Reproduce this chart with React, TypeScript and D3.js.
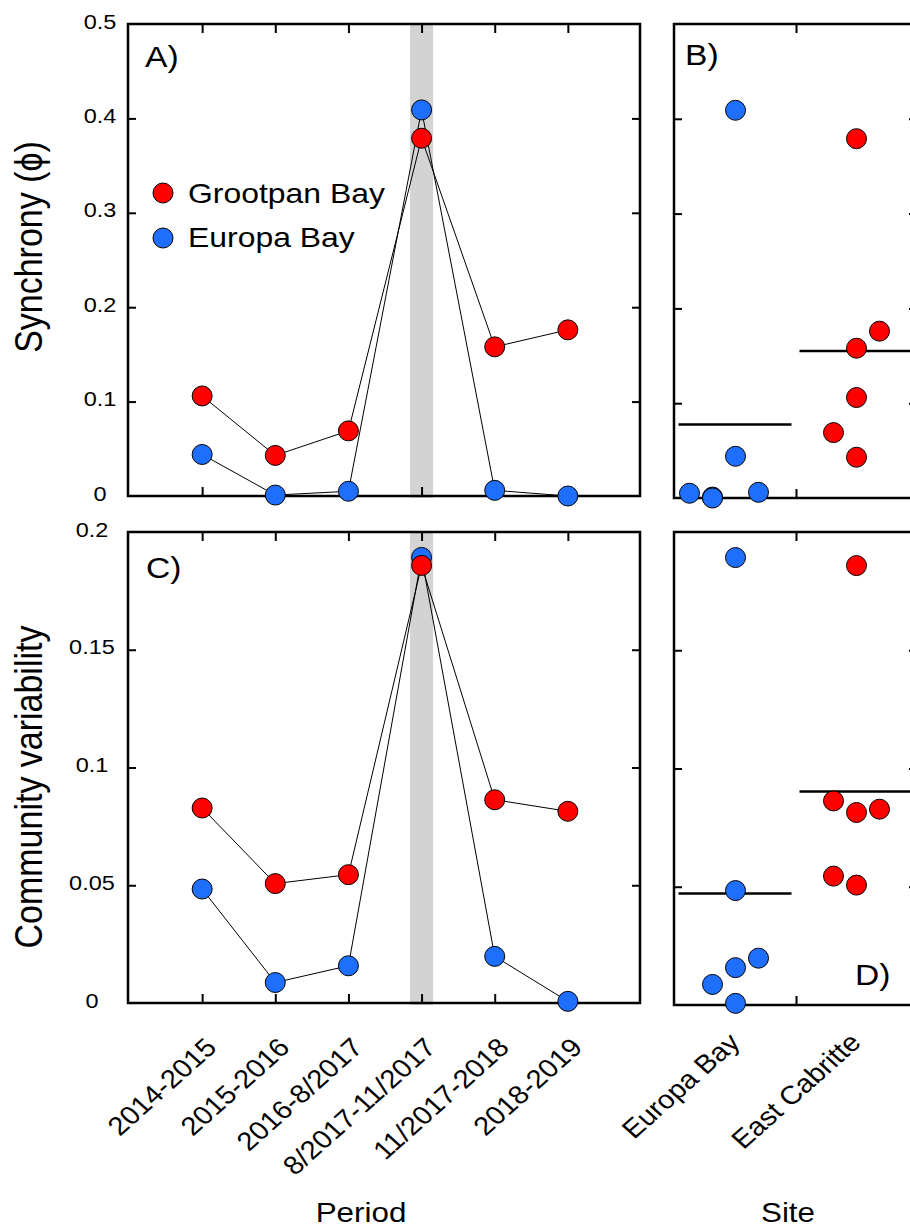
import React, { useEffect, useRef } from "react";
import * as d3 from "d3";

// categories
const periods = ["2014-2015", "2015-2016", "2016-8/2017", "8/2017-11/2017", "11/2017-2018", "2018-2019"];
const sites = ["Europa Bay", "East Cabritte"];
const highlightPeriod = "8/2017-11/2017";

// synchrony (phi) per period
const synchronyGrootpan = [0.106, 0.043, 0.069, 0.379, 0.158, 0.176];
const synchronyEuropa = [0.044, 0.001, 0.005, 0.409, 0.006, 0.0];

// community variability per period
const variabilityGrootpan = [0.0828, 0.0507, 0.0545, 0.1858, 0.0863, 0.0814];
const variabilityEuropa = [0.0484, 0.0087, 0.0158, 0.1892, 0.0198, 0.0007];

// dodge slots for the site panels (B, D)
const slotsSyncEuropa = [0, -1, -2, 0, 1, -1];
const slotsSyncGrootpan = [0, 0, -1, 0, 0, 1];
const slotsVarEuropa = [0, -1, 0, 0, 1, 0];
const slotsVarGrootpan = [1, 0, -1, 0, -1, 0];

// tick labels
const syncTicks = [0, 0.1, 0.2, 0.3, 0.4, 0.5];
const varTicks = [0, 0.05, 0.1, 0.15, 0.2];

const FONT = "'Liberation Sans', Arial, Helvetica, sans-serif";
const RED = "#ff0000";
const BLUE = "#1f6fff";
const BAND = "#d3d3d3";
const SX = 1.12; // text in the figure is slightly wide

const addText = (g: any, x: number, y: number, str: string, size: number, anchor = "start", rot = 0) =>
  g.append("text")
    .attr("transform", `translate(${x},${y}) scale(${SX},1) rotate(${rot})`)
    .attr("text-anchor", anchor)
    .style("font-family", FONT)
    .style("font-size", size + "px")
    .attr("fill", "#000")
    .text(str);

const fmt = (v: number) => (v === 0 ? "0" : String(v));

// frame + inward ticks on all four sides
const drawFrame = (svg: any, x: any, y: any, xTickPos: number[], yTickVals: number[]) => {
  const [x0, x1] = x.range();
  const [y1, y0] = y.range();
  const g = svg.append("g");
  const xt = d3.scaleIdentity().domain([x0, x1]);
  g.append("g").attr("transform", `translate(0,${y0})`)
    .call(d3.axisTop(xt).tickValues(xTickPos).tickSize(-9).tickFormat(() => ""));
  g.append("g").attr("transform", `translate(0,${y1})`)
    .call(d3.axisBottom(xt).tickValues(xTickPos).tickSize(-9).tickFormat(() => ""));
  g.append("g").attr("transform", `translate(${x0},0)`)
    .call(d3.axisLeft(y).tickValues(yTickVals).tickSize(-8).tickFormat(() => ""));
  g.append("g").attr("transform", `translate(${x1},0)`)
    .call(d3.axisRight(y).tickValues(yTickVals).tickSize(-8).tickFormat(() => ""));
  g.selectAll(".domain").remove();
  g.selectAll(".tick line").attr("stroke", "#000").attr("stroke-width", 2);
  g.append("rect")
    .attr("x", x0).attr("y", y0)
    .attr("width", x1 - x0).attr("height", y1 - y0)
    .attr("fill", "none").attr("stroke", "#000").attr("stroke-width", 2.5);
};

const dots = (g: any, data: any[], color: string) =>
  g.append("g").selectAll("circle").data(data).enter().append("circle")
    .attr("cx", (d: any) => d.x).attr("cy", (d: any) => d.y)
    .attr("r", 10).attr("fill", color)
    .attr("stroke", "#000").attr("stroke-width", 1);

const periodPanel = (svg: any, y: any, grootpan: number[], europa: number[], ticks: number[], labelX: number) => {
  const x = d3.scalePoint().domain(periods).range([129, 641]).padding(1);
  const [yb, yt] = y.range();

  // highlighted period band
  svg.append("rect")
    .attr("x", (x(highlightPeriod) as number) - 11.5).attr("y", yt)
    .attr("width", 23).attr("height", yb - yt + 2)
    .attr("fill", BAND);

  drawFrame(svg, d3.scaleLinear().range([128, 640]), y, periods.map((p) => x(p) as number), ticks.slice(1, -1));

  ticks.forEach((t) => addText(svg, labelX, y(t) + 4.5, fmt(t), 21, "middle"));

  const line = d3.line<number>().x((d, i) => x(periods[i]) as number).y((d) => y(d));
  [europa, grootpan].forEach((s) => {
    svg.append("path").datum(s).attr("d", line)
      .attr("fill", "none").attr("stroke", "#000").attr("stroke-width", 1);
  });
  dots(svg, europa.map((v, i) => ({ x: x(periods[i]), y: y(v) })), BLUE);
  dots(svg, grootpan.map((v, i) => ({ x: x(periods[i]), y: y(v) })), RED);
};

const sitePanel = (svg: any, y: any, grootpan: number[], europa: number[], slotsG: number[], slotsE: number[], ticks: number[]) => {
  const x = d3.scalePoint().domain(sites).range([675, 917]).padding(0.5);
  const mid = ((x(sites[0]) as number) + (x(sites[1]) as number)) / 2;
  drawFrame(svg, d3.scaleLinear().range([674, 917]), y, [mid], ticks.slice(1, -1));

  const step = 23;
  [[europa, sites[0]], [grootpan, sites[1]]].forEach(([vals, site]: any) => {
    const cx = x(site) as number;
    const m = d3.mean(vals as number[]) as number;
    svg.append("line")
      .attr("x1", cx - 57).attr("x2", cx + 56)
      .attr("y1", y(m)).attr("y2", y(m))
      .attr("stroke", "#000").attr("stroke-width", 2.5);
  });
  dots(svg, europa.map((v, i) => ({ x: (x(sites[0]) as number) + slotsE[i] * step, y: y(v) })), BLUE);
  dots(svg, grootpan.map((v, i) => ({ x: (x(sites[1]) as number) + slotsG[i] * step, y: y(v) })), RED);
};

const createFigure = (node: SVGSVGElement) => {
  const svg = d3.select(node);
  svg.selectAll("*").remove();

  const yA = d3.scaleLinear().domain([0, 0.5]).range([496, 24]);
  const yB = d3.scaleLinear().domain([0, 0.5]).range([498, 24]);
  const yC = d3.scaleLinear().domain([0, 0.2]).range([1003, 532]);
  const yD = d3.scaleLinear().domain([0, 0.2]).range([1005, 532]);

  periodPanel(svg, yA, synchronyGrootpan, synchronyEuropa, syncTicks, 100);
  sitePanel(svg, yB, synchronyGrootpan, synchronyEuropa, slotsSyncGrootpan, slotsSyncEuropa, syncTicks);
  periodPanel(svg, yC, variabilityGrootpan, variabilityEuropa, varTicks, 92);
  sitePanel(svg, yD, variabilityGrootpan, variabilityEuropa, slotsVarGrootpan, slotsVarEuropa, varTicks);

  // legend
  const legend = [["Grootpan Bay", RED], ["Europa Bay", BLUE]];
  legend.forEach(([name, color], i) => {
    svg.append("circle").attr("cx", 163).attr("cy", 193 + i * 45).attr("r", 10)
      .attr("fill", color).attr("stroke", "#000").attr("stroke-width", 1);
    addText(svg, 188, 203 + i * 44, name, 28.5);
  });

  // panel letters
  addText(svg, 145, 67, "A)", 30);
  addText(svg, 685, 65, "B)", 30);
  addText(svg, 146, 578, "C)", 30);
  addText(svg, 855, 985, "D)", 30);

  // axis titles
  addText(svg, 42, 247, "Synchrony (\u03D5)", 34, "middle", -90);
  addText(svg, 42, 787, "Community variability", 34, "middle", -90);
  addText(svg, 361, 1222, "Period", 28, "middle");
  addText(svg, 788, 1222, "Site", 28, "middle");

  // rotated category labels
  const xp = d3.scalePoint().domain(periods).range([129, 641]).padding(1);
  periods.forEach((p) => addText(svg, (xp(p) as number) + 16, 1049, p, 26, "end", -45));
  const xs = d3.scalePoint().domain(sites).range([675, 917]).padding(0.5);
  sites.forEach((s) => addText(svg, (xs(s) as number) + 6, 1044, s, 26, "end", -45));
};

const App = () => {
  const ref = useRef<SVGSVGElement>(null);
  useEffect(() => {
    if (ref.current) createFigure(ref.current);
  }, []);
  return (
    <svg
      ref={ref}
      width={910}
      height={1230}
      style={{ position: "absolute", left: 0, top: 0, background: "#fff" }}
    />
  );
};

export default App;
